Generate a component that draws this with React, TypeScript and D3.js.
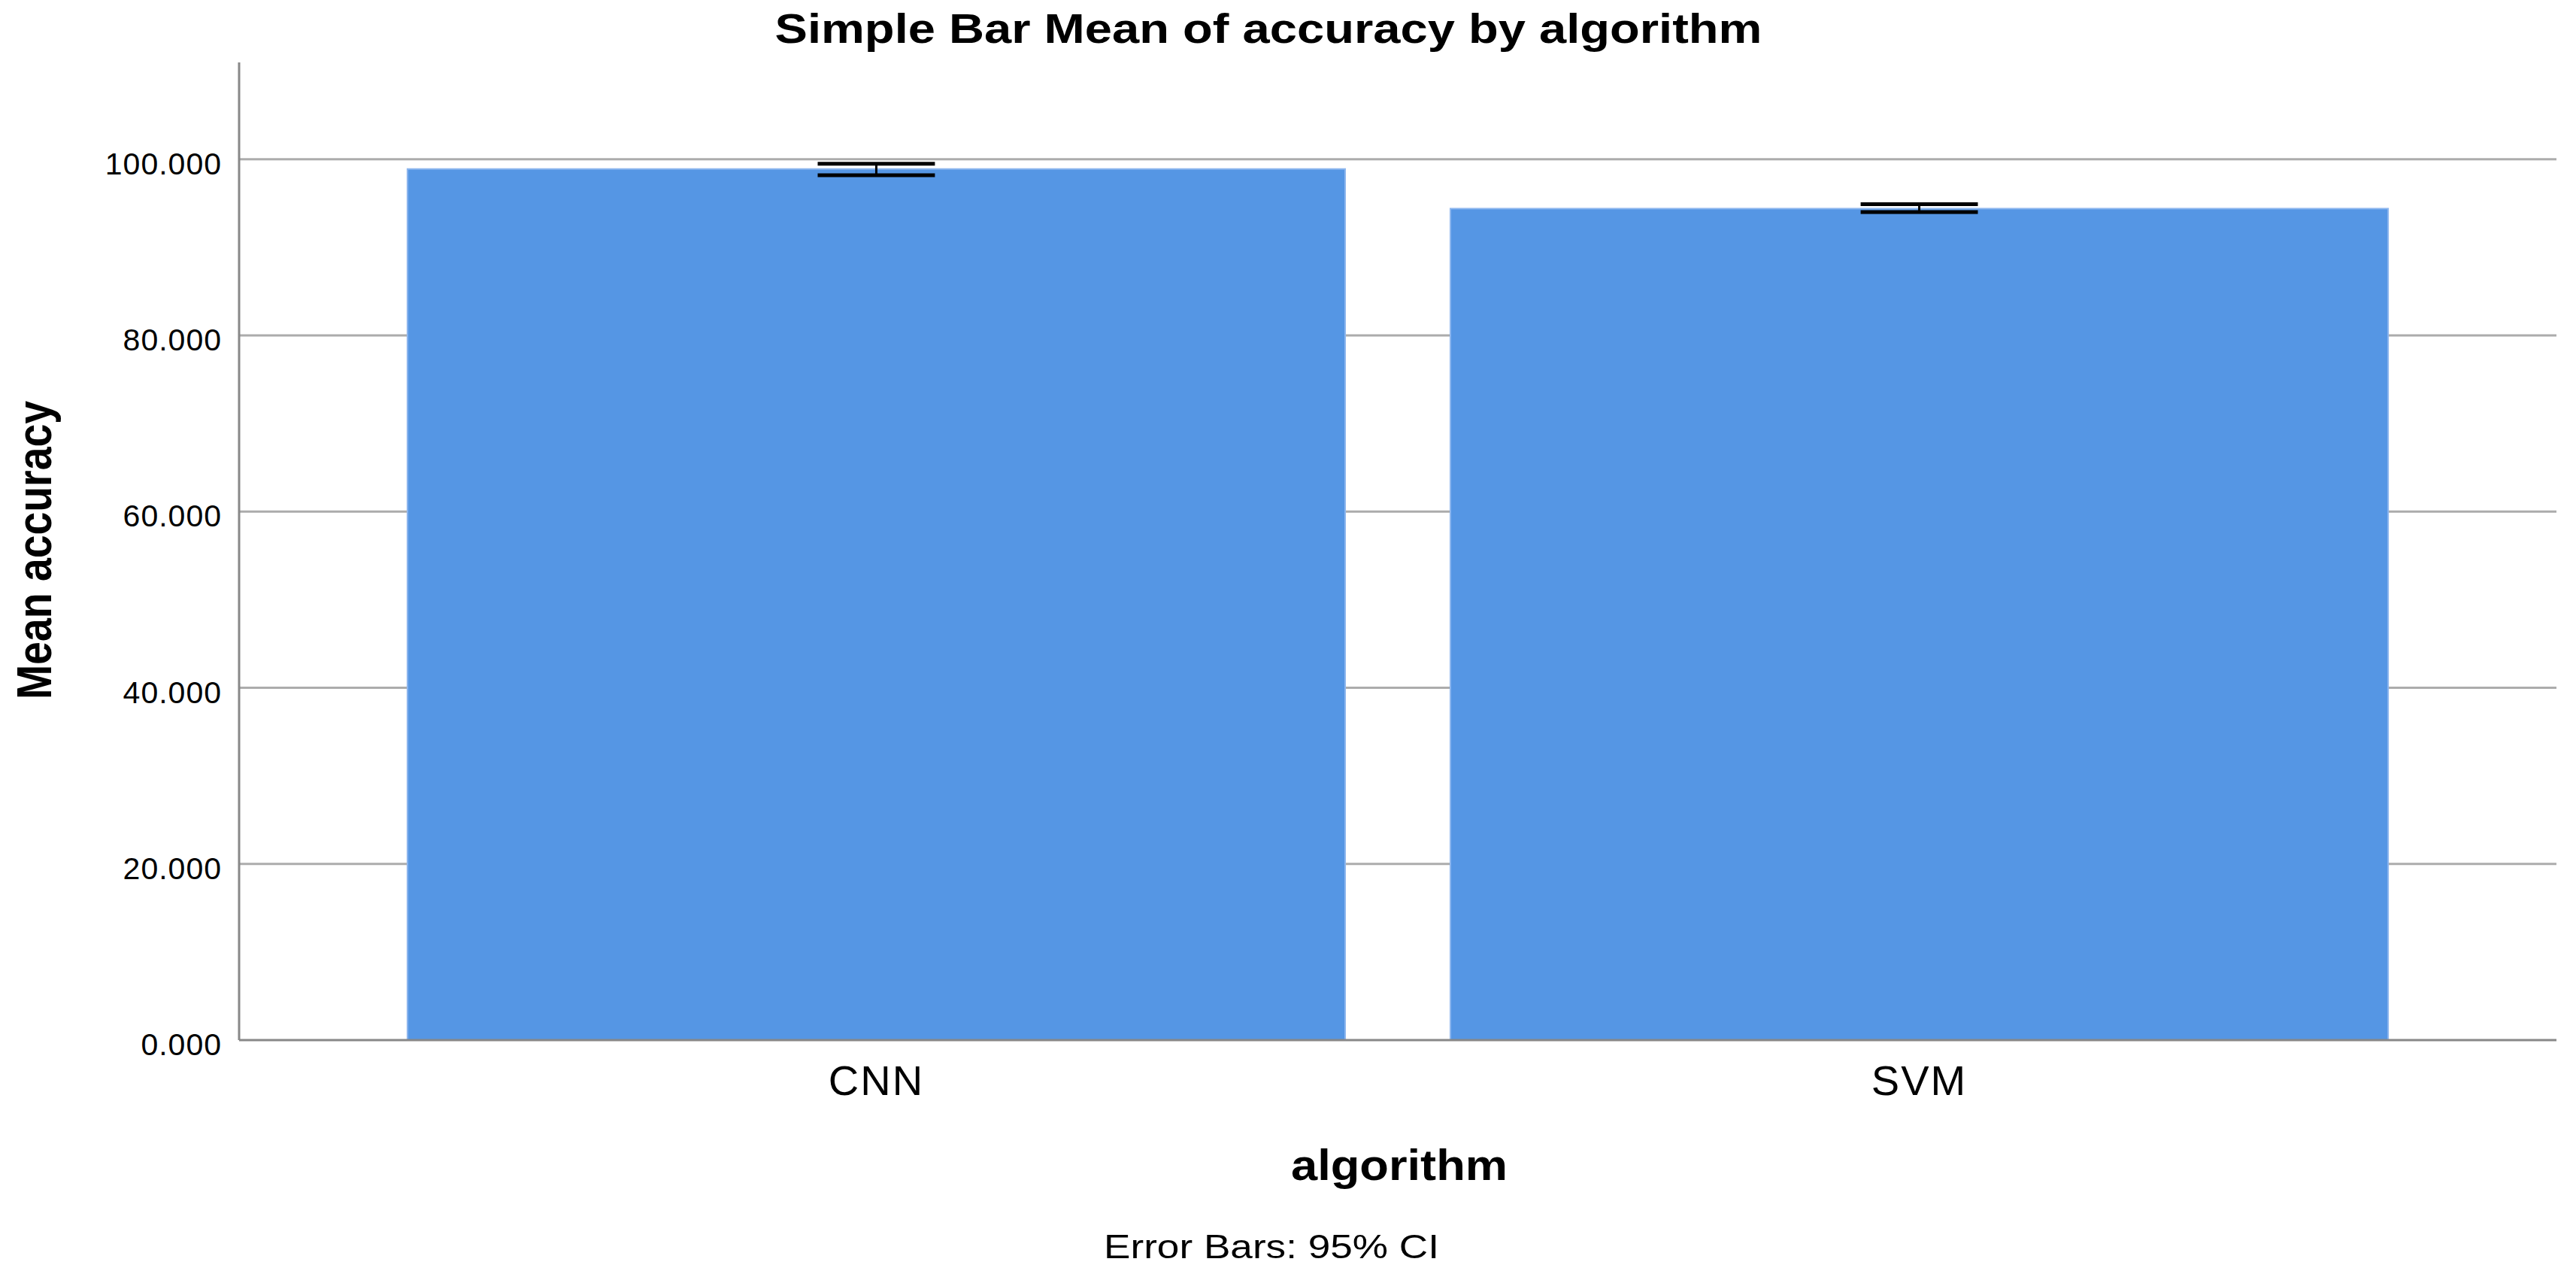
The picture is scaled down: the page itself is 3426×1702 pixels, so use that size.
import React from "react";
import * as d3 from "d3";

const categories = ["CNN", "SVM"];
const means = [98.9, 94.4];
const ciLow = [98.2, 94.0];
const ciHigh = [99.5, 94.9];
const yTicks = [0, 20, 40, 60, 80, 100];
const yMax = 111;

const W = 3426;
const H = 1702;
const left = 318;
const right = 3400;
const top = 83;
const bottom = 1383;
const FONT = "'Liberation Sans', Arial, Helvetica, sans-serif";

export default function App() {
  const x = d3
    .scaleBand<string>()
    .domain(categories)
    .range([left, right])
    .paddingInner(0.1009)
    .paddingOuter(0.1614);
  const y = d3.scaleLinear().domain([0, yMax]).range([bottom, top]);
  const bw = x.bandwidth();
  const capW = bw * 0.125;
  const fmt = d3.format(".3f");

  return (
    <svg
      width={W}
      height={H}
      viewBox={`0 0 ${W} ${H}`}
      style={{ position: "absolute", left: 0, top: 0, background: "#fff" }}
    >
      <rect x={0} y={0} width={W} height={H} fill="#fff" />
      <text
        x={1687}
        y={57}
        textAnchor="middle"
        fontFamily={FONT}
        fontWeight="bold"
        fontSize={56}
        textLength={1313}
        lengthAdjust="spacingAndGlyphs"
        fill="#000"
      >
        Simple Bar Mean of accuracy by algorithm
      </text>

      {yTicks
        .filter((t) => t > 0)
        .map((t) => (
          <line
            key={"g" + t}
            x1={left}
            x2={right}
            y1={y(t)}
            y2={y(t)}
            stroke="#acacac"
            strokeWidth={3}
          />
        ))}

      {categories.map((c, i) => (
        <rect
          key={c}
          x={x(c)!}
          y={y(means[i])}
          width={bw}
          height={bottom - y(means[i])}
          fill="#5596e4"
          stroke="#8db6ee"
          strokeWidth={2}
        />
      ))}

      {categories.map((c, i) => {
        const cx = x(c)! + bw / 2;
        return (
          <g key={"e" + c} stroke="#000">
            <line x1={cx} x2={cx} y1={y(ciHigh[i])} y2={y(ciLow[i])} strokeWidth={3} />
            <line x1={cx - capW / 2} x2={cx + capW / 2} y1={y(ciHigh[i])} y2={y(ciHigh[i])} strokeWidth={5} />
            <line x1={cx - capW / 2} x2={cx + capW / 2} y1={y(ciLow[i])} y2={y(ciLow[i])} strokeWidth={5} />
          </g>
        );
      })}

      <line x1={left} x2={left} y1={top} y2={bottom} stroke="#888" strokeWidth={3} />
      <line x1={left} x2={right} y1={bottom} y2={bottom} stroke="#888" strokeWidth={3} />

      {yTicks.map((t) => (
        <text
          key={"t" + t}
          x={295}
          y={y(t) + 20}
          textAnchor="end"
          fontFamily={FONT}
          fontSize={41}
          letterSpacing={1}
          fill="#000"
        >
          {fmt(t)}
        </text>
      ))}

      {categories.map((c) => (
        <text
          key={"x" + c}
          x={x(c)! + bw / 2}
          y={1456}
          textAnchor="middle"
          fontFamily={FONT}
          fontSize={56}
          letterSpacing={2}
          fill="#000"
        >
          {c}
        </text>
      ))}

      <text
        x={1861}
        y={1569}
        textAnchor="middle"
        fontFamily={FONT}
        fontWeight="bold"
        fontSize={57}
        textLength={288}
        lengthAdjust="spacingAndGlyphs"
        fill="#000"
      >
        algorithm
      </text>
      <text
        transform={`translate(68, 731.5) rotate(-90)`}
        textAnchor="middle"
        fontFamily={FONT}
        fontWeight="bold"
        fontSize={64}
        textLength={397}
        lengthAdjust="spacingAndGlyphs"
        fill="#000"
      >
        Mean accuracy
      </text>
      <text
        x={1691}
        y={1673}
        textAnchor="middle"
        fontFamily={FONT}
        fontSize={44}
        textLength={446}
        lengthAdjust="spacingAndGlyphs"
        fill="#000"
      >
        Error Bars: 95% CI
      </text>
    </svg>
  );
}
